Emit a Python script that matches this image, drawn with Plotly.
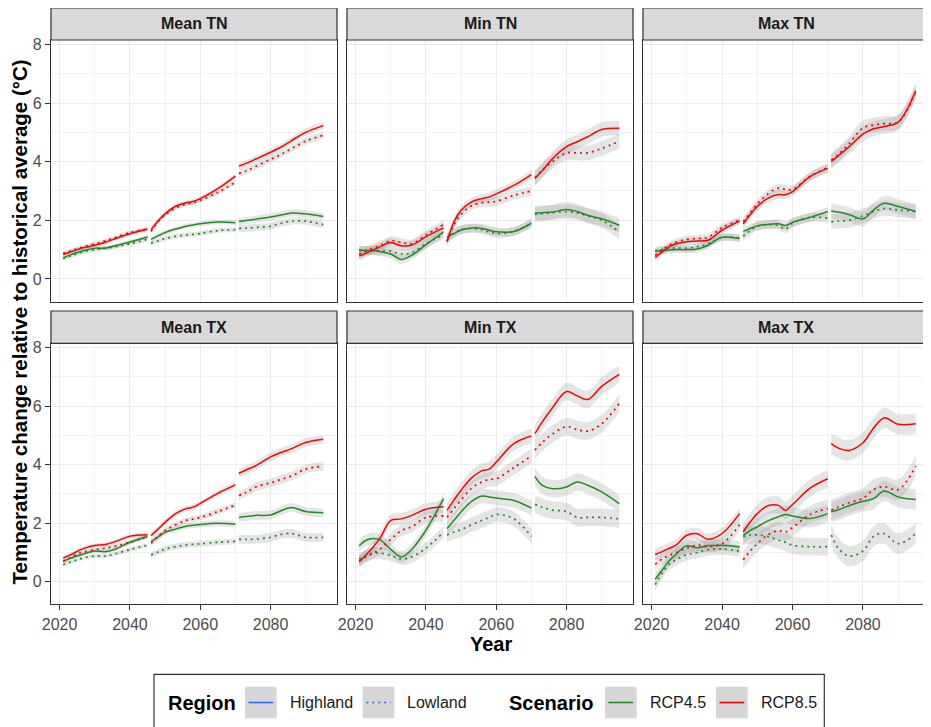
import plotly.graph_objects as go

# ---------------- data ----------------
SEG1_YEARS = [2021, 2023, 2025, 2027, 2030, 2033, 2036, 2040, 2045]
SEG2_YEARS = [2046, 2048, 2050, 2053, 2056, 2058, 2060, 2065, 2070]
SEG3_YEARS = [2071, 2073, 2076, 2080, 2083, 2086, 2090, 2095]
SEGMENTS = [SEG1_YEARS, SEG2_YEARS, SEG3_YEARS]

PANELS = ["Mean TN", "Min TN", "Max TN", "Mean TX", "Min TX", "Max TX"]
SCENARIOS = ["RCP4.5", "RCP8.5"]
REGIONS = ["Highland", "Lowland"]

# values: seg1 (9) + seg2 (9) + seg3 (8)
mean_tn_rcp85_high = [0.83, 0.92, 1.00, 1.07, 1.15, 1.25, 1.38, 1.54, 1.70,
                      1.68, 1.98, 2.22, 2.48, 2.60, 2.64, 2.74, 3.08, 3.51,
                      3.85, 3.94, 4.10, 4.32, 4.50, 4.72, 5.00, 5.23]
mean_tn_rcp85_low = [0.87, 0.95, 1.03, 1.10, 1.20, 1.30, 1.42, 1.58, 1.70,
                     1.62, 1.95, 2.18, 2.42, 2.55, 2.60, 2.68, 2.95, 3.30,
                     3.60, 3.68, 3.85, 4.08, 4.25, 4.45, 4.70, 4.90]
mean_tn_rcp45_high = [0.72, 0.82, 0.90, 0.97, 1.05, 1.05, 1.14, 1.26, 1.43,
                      1.35, 1.47, 1.58, 1.70, 1.80, 1.84, 1.88, 1.94, 1.92,
                      1.96, 1.99, 2.04, 2.11, 2.18, 2.25, 2.22, 2.13]
mean_tn_rcp45_low = [0.70, 0.78, 0.86, 0.93, 1.00, 1.05, 1.10, 1.20, 1.35,
                     1.22, 1.30, 1.38, 1.45, 1.50, 1.52, 1.55, 1.65, 1.68,
                     1.72, 1.73, 1.76, 1.80, 1.90, 1.97, 1.97, 1.85]

min_tn_rcp85_high = [0.78, 0.88, 0.99, 1.10, 1.24, 1.13, 1.16, 1.44, 1.74,
                     1.27, 1.95, 2.34, 2.63, 2.74, 2.80, 2.90, 3.19, 3.56,
                     3.43, 3.68, 4.10, 4.51, 4.68, 4.85, 5.10, 5.14]
min_tn_rcp85_low = [0.85, 0.95, 1.05, 1.15, 1.30, 1.25, 1.20, 1.50, 1.85,
                    1.30, 1.85, 2.20, 2.50, 2.60, 2.62, 2.65, 2.85, 3.00,
                    3.45, 3.70, 4.00, 4.30, 4.30, 4.30, 4.45, 4.70]
min_tn_rcp45_high = [0.98, 0.97, 0.96, 0.93, 0.85, 0.66, 0.81, 1.17, 1.60,
                     1.42, 1.55, 1.67, 1.74, 1.72, 1.66, 1.61, 1.62, 1.90,
                     2.25, 2.26, 2.28, 2.37, 2.30, 2.17, 2.05, 1.83]
min_tn_rcp45_low = [0.98, 0.97, 0.97, 0.96, 0.95, 0.85, 0.90, 1.20, 1.50,
                    1.40, 1.55, 1.68, 1.72, 1.68, 1.60, 1.55, 1.62, 1.90,
                    2.20, 2.22, 2.26, 2.30, 2.25, 2.15, 2.00, 1.60]

max_tn_rcp85_high = [0.73, 0.92, 1.10, 1.20, 1.27, 1.29, 1.32, 1.66, 1.98,
                     1.88, 2.20, 2.47, 2.75, 2.88, 2.87, 2.98, 3.49, 3.77,
                     4.00, 4.20, 4.50, 4.94, 5.12, 5.20, 5.35, 6.42]
max_tn_rcp85_low = [0.80, 0.98, 1.15, 1.25, 1.35, 1.38, 1.42, 1.75, 2.00,
                    1.95, 2.25, 2.55, 2.90, 3.10, 3.05, 3.05, 3.50, 3.80,
                    4.05, 4.25, 4.60, 5.15, 5.25, 5.30, 5.35, 6.40]
max_tn_rcp45_high = [0.95, 0.97, 0.99, 1.00, 1.00, 1.02, 1.15, 1.42, 1.38,
                     1.62, 1.72, 1.81, 1.86, 1.88, 1.82, 1.93, 2.10, 2.30,
                     2.32, 2.28, 2.20, 2.05, 2.35, 2.58, 2.47, 2.30]
max_tn_rcp45_low = [0.95, 1.00, 1.05, 1.05, 1.05, 1.10, 1.20, 1.42, 1.40,
                    1.45, 1.65, 1.80, 1.85, 1.82, 1.70, 1.90, 2.10, 2.07,
                    1.95, 1.97, 2.00, 2.15, 2.30, 2.40, 2.35, 2.30]

mean_tx_rcp85_high = [0.81, 0.92, 1.04, 1.14, 1.24, 1.27, 1.38, 1.56, 1.61,
                      1.58, 1.80, 2.03, 2.33, 2.50, 2.55, 2.68, 3.02, 3.31,
                      3.71, 3.82, 3.98, 4.27, 4.42, 4.55, 4.76, 4.87]
mean_tx_rcp85_low = [0.70, 0.83, 0.95, 1.02, 1.10, 1.15, 1.22, 1.35, 1.55,
                     1.32, 1.55, 1.75, 1.95, 2.10, 2.15, 2.20, 2.40, 2.62,
                     2.95, 3.05, 3.25, 3.38, 3.50, 3.62, 3.85, 3.95]
mean_tx_rcp45_high = [0.70, 0.80, 0.88, 0.96, 1.05, 1.03, 1.12, 1.35, 1.55,
                      1.37, 1.53, 1.69, 1.80, 1.90, 1.93, 1.96, 2.00, 1.97,
                      2.20, 2.23, 2.27, 2.28, 2.43, 2.54, 2.40, 2.36]
mean_tx_rcp45_low = [0.58, 0.67, 0.75, 0.82, 0.88, 0.88, 0.96, 1.10, 1.25,
                     0.92, 1.02, 1.12, 1.20, 1.26, 1.28, 1.30, 1.35, 1.38,
                     1.45, 1.45, 1.46, 1.52, 1.62, 1.65, 1.52, 1.52]

min_tx_rcp85_high = [0.68, 0.92, 1.19, 1.50, 2.10, 2.15, 2.27, 2.48, 2.56,
                     2.44, 2.80, 3.13, 3.55, 3.80, 3.85, 4.09, 4.72, 4.98,
                     5.06, 5.45, 5.95, 6.50, 6.36, 6.23, 6.68, 7.09]
min_tx_rcp85_low = [0.72, 0.85, 0.98, 1.12, 1.45, 1.75, 1.88, 2.20, 2.25,
                    2.20, 2.50, 2.80, 3.20, 3.42, 3.50, 3.52, 3.90, 4.30,
                    4.50, 4.75, 5.05, 5.30, 5.20, 5.15, 5.40, 6.10]
min_tx_rcp45_high = [1.23, 1.42, 1.48, 1.43, 1.11, 0.85, 1.11, 1.76, 2.84,
                     1.82, 2.10, 2.39, 2.75, 2.93, 2.90, 2.86, 2.78, 2.52,
                     3.60, 3.30, 3.18, 3.24, 3.41, 3.30, 3.07, 2.67]
min_tx_rcp45_low = [0.78, 0.90, 0.98, 0.98, 0.90, 0.78, 0.85, 1.15, 1.70,
                    1.60, 1.70, 1.78, 1.95, 2.10, 2.20, 2.30, 2.15, 1.55,
                    2.65, 2.55, 2.45, 2.40, 2.20, 2.20, 2.20, 2.15]

max_tx_rcp85_high = [0.93, 1.03, 1.14, 1.26, 1.59, 1.64, 1.45, 1.65, 2.33,
                     1.70, 2.05, 2.33, 2.60, 2.61, 2.44, 2.64, 3.20, 3.52,
                     4.72, 4.57, 4.49, 4.75, 5.25, 5.60, 5.38, 5.40]
max_tx_rcp85_low = [0.60, 0.78, 0.90, 1.00, 1.15, 1.25, 1.20, 1.30, 1.95,
                    0.75, 1.05, 1.30, 1.60, 1.75, 1.70, 1.85, 2.30, 2.50,
                    2.45, 2.55, 2.70, 2.85, 3.15, 3.25, 3.15, 3.95]
max_tx_rcp45_high = [0.09, 0.40, 0.72, 0.95, 1.23, 1.16, 1.23, 1.25, 1.19,
                     1.59, 1.75, 1.88, 2.08, 2.22, 2.30, 2.25, 2.16, 2.33,
                     2.39, 2.46, 2.60, 2.75, 2.84, 3.10, 2.90, 2.81]
max_tx_rcp45_low = [-0.10, 0.30, 0.60, 0.75, 0.93, 1.00, 1.10, 1.12, 1.05,
                    1.55, 1.60, 1.60, 1.55, 1.42, 1.35, 1.25, 1.20, 1.20,
                    1.60, 1.15, 0.88, 1.05, 1.55, 1.65, 1.30, 1.65]

# confidence band half-widths per panel, per segment
mean_tn_se = [0.07, 0.08, 0.12]
min_tn_se = [0.15, 0.15, 0.25]
max_tn_se = [0.12, 0.15, 0.25]
mean_tx_se = [0.07, 0.10, 0.15]
min_tx_se = [0.20, 0.25, 0.30]
max_tx_se = [0.20, 0.30, 0.35]

SERIES = {
    "Mean TN": {("RCP4.5", "Highland"): mean_tn_rcp45_high, ("RCP4.5", "Lowland"): mean_tn_rcp45_low,
                ("RCP8.5", "Highland"): mean_tn_rcp85_high, ("RCP8.5", "Lowland"): mean_tn_rcp85_low},
    "Min TN": {("RCP4.5", "Highland"): min_tn_rcp45_high, ("RCP4.5", "Lowland"): min_tn_rcp45_low,
               ("RCP8.5", "Highland"): min_tn_rcp85_high, ("RCP8.5", "Lowland"): min_tn_rcp85_low},
    "Max TN": {("RCP4.5", "Highland"): max_tn_rcp45_high, ("RCP4.5", "Lowland"): max_tn_rcp45_low,
               ("RCP8.5", "Highland"): max_tn_rcp85_high, ("RCP8.5", "Lowland"): max_tn_rcp85_low},
    "Mean TX": {("RCP4.5", "Highland"): mean_tx_rcp45_high, ("RCP4.5", "Lowland"): mean_tx_rcp45_low,
                ("RCP8.5", "Highland"): mean_tx_rcp85_high, ("RCP8.5", "Lowland"): mean_tx_rcp85_low},
    "Min TX": {("RCP4.5", "Highland"): min_tx_rcp45_high, ("RCP4.5", "Lowland"): min_tx_rcp45_low,
               ("RCP8.5", "Highland"): min_tx_rcp85_high, ("RCP8.5", "Lowland"): min_tx_rcp85_low},
    "Max TX": {("RCP4.5", "Highland"): max_tx_rcp45_high, ("RCP4.5", "Lowland"): max_tx_rcp45_low,
               ("RCP8.5", "Highland"): max_tx_rcp85_high, ("RCP8.5", "Lowland"): max_tx_rcp85_low},
}
SE = {"Mean TN": mean_tn_se, "Min TN": min_tn_se, "Max TN": max_tn_se,
      "Mean TX": mean_tx_se, "Min TX": min_tx_se, "Max TX": max_tx_se}

Y_TICKS = [0, 2, 4, 6, 8]
X_TICKS = [2020, 2040, 2060, 2080]

# ---------------- styling / layout ----------------
PAGE_W, PAGE_H = 931, 727
OFF = 8  # default body margin of the html page
W, H = PAGE_W - OFF, PAGE_H - OFF
COLORS = {"RCP4.5": "#228B22", "RCP8.5": "#FF0000"}
DASHES = {"Highland": "solid", "Lowland": "2px,4px"}
FONT = "Liberation Sans, Arial, Helvetica, sans-serif"
BAND = "rgba(153,153,153,0.25)"


def px(x):
    return (x - OFF) / W


def py(y):
    return 1 - (y - OFF) / H


COL_PX = [(51, 337), (347, 633), (643, 929.5)]
ROW_PX = [(40, 301.5), (343.3, 604.3)]
STRIP_PX = [(8, 40), (311, 343.3)]
XRANGE = [2017.55, 2098.9]
YRANGE = [-0.77, 8.15]

fig = go.Figure()


def split(vals):
    out, i = [], 0
    for seg in SEGMENTS:
        out.append(vals[i:i + len(seg)])
        i += len(seg)
    return out


for k, panel in enumerate(PANELS):
    ax = "" if k == 0 else str(k + 1)
    xa, ya = "x" + ax, "y" + ax
    for sc in SCENARIOS:
        for rg in REGIONS:
            segs = split(SERIES[panel][(sc, rg)])
            for s, (yrs, vals) in enumerate(zip(SEGMENTS, segs)):
                se = SE[panel][s]
                fig.add_trace(go.Scatter(x=yrs, y=[v + se for v in vals], xaxis=xa, yaxis=ya,
                                         mode="lines", line=dict(width=0, shape="spline"),
                                         showlegend=False, hoverinfo="skip"))
                fig.add_trace(go.Scatter(x=yrs, y=[v - se for v in vals], xaxis=xa, yaxis=ya,
                                         mode="lines", line=dict(width=0, shape="spline"),
                                         fill="tonexty", fillcolor=BAND,
                                         showlegend=False, hoverinfo="skip"))
    for sc in SCENARIOS:
        for rg in REGIONS:
            segs = split(SERIES[panel][(sc, rg)])
            for yrs, vals in zip(SEGMENTS, segs):
                fig.add_trace(go.Scatter(x=yrs, y=vals, xaxis=xa, yaxis=ya, mode="lines",
                                         line=dict(color=COLORS[sc], width=1.7 if rg == "Lowland" else 1.5,
                                                   dash=DASHES[rg], shape="spline", smoothing=1.0),
                                         showlegend=False, name=f"{sc} {rg}"))

layout = dict(template="none", width=W, height=H, margin=dict(l=0, r=0, t=0, b=0, pad=0),
              autosize=False,
              paper_bgcolor="white", plot_bgcolor="white", showlegend=False,
              font=dict(family=FONT, color="#4D4D4D"))

shapes, annotations = [], []
for k, panel in enumerate(PANELS):
    r, c = divmod(k, 3)
    ax = "" if k == 0 else str(k + 1)
    x0, x1 = COL_PX[c]
    y0, y1 = ROW_PX[r]
    layout["xaxis" + ax] = dict(
        domain=[px(x0), px(x1)], anchor="y" + ax, range=XRANGE, automargin=False,
        tickvals=X_TICKS, showticklabels=(r == 1), ticks="outside" if r == 1 else "",
        ticklen=5, tickwidth=1.1, tickcolor="#333333",
        tickfont=dict(size=16, color="#4D4D4D", family=FONT),
        showgrid=True, gridcolor="#EBEBEB", gridwidth=1.2,
        minor=dict(tickvals=[2030, 2050, 2070, 2090], showgrid=True, gridcolor="#F2F2F2", gridwidth=0.6),
        showline=True, mirror=True, linecolor="#333333", linewidth=1.2, zeroline=False)
    layout["yaxis" + ax] = dict(
        domain=[py(y1), py(y0)], anchor="x" + ax, range=YRANGE, automargin=False,
        tickvals=Y_TICKS, showticklabels=(c == 0), ticks="outside" if c == 0 else "",
        ticklen=5, tickwidth=1.1, tickcolor="#333333",
        tickfont=dict(size=16, color="#4D4D4D", family=FONT),
        showgrid=True, gridcolor="#EBEBEB", gridwidth=1.2,
        minor=dict(tickvals=[1, 3, 5, 7], showgrid=True, gridcolor="#F2F2F2", gridwidth=0.6),
        showline=True, mirror=True, linecolor="#333333", linewidth=1.2, zeroline=False)
    sy0, sy1 = STRIP_PX[r]
    shapes.append(dict(type="rect", xref="paper", yref="paper", x0=px(x0), x1=px(x1),
                       y0=py(sy1), y1=py(sy0), fillcolor="#D9D9D9",
                       line=dict(color="#333333", width=1.2), layer="above"))
    annotations.append(dict(xref="paper", yref="paper", x=px((x0 + x1) / 2), y=py((sy0 + sy1) / 2),
                            text=f"<b>{panel}</b>", showarrow=False, xanchor="center", yanchor="middle",
                            font=dict(size=16, color="#1A1A1A", family=FONT)))

# axis titles
annotations.append(dict(xref="paper", yref="paper", x=px(18.5), y=py(322), textangle=-90,
                        text="<b>Temperature change relative to historical average (°C)</b>",
                        showarrow=False, xanchor="center", yanchor="middle", borderpad=0,
                        font=dict(size=20.5, color="black", family=FONT)))
annotations.append(dict(xref="paper", yref="paper", x=px(490.5), y=py(643.5), text="<b>Year</b>",
                        showarrow=False, xanchor="center", yanchor="middle",
                        font=dict(size=20, color="black", family=FONT)))

# legend (manual, ggplot style)
shapes.append(dict(type="rect", xref="paper", yref="paper", x0=px(154), x1=px(824.3),
                   y0=py(732), y1=py(674.3), fillcolor="white",
                   line=dict(color="#333333", width=1.2), layer="above"))
LEG_Y = 702.5
legend_keys = [
    (245, "#3366FF", "solid"),
    (362.7, "#3366FF", "2px,4px"),
    (605, "#228B22", "solid"),
    (716, "#FF0000", "solid"),
]
for kx, col, dash in legend_keys:
    shapes.append(dict(type="rect", xref="paper", yref="paper", x0=px(kx), x1=px(kx + 31.7),
                       y0=py(718.3), y1=py(686.7), fillcolor="#D6D6D6", line=dict(width=0),
                       layer="above"))
    shapes.append(dict(type="line", xref="paper", yref="paper", x0=px(kx + 3.5), x1=px(kx + 28.2),
                       y0=py(LEG_Y), y1=py(LEG_Y), line=dict(color=col, width=1.6, dash=dash),
                       layer="above"))
legend_texts = [
    (165.5, "<b>Region</b>", 20),
    (287.5, "Highland", 16),
    (405.2, "Lowland", 16),
    (507.3, "<b>Scenario</b>", 20),
    (647.5, "RCP4.5", 16),
    (758.5, "RCP8.5", 16),
]
for tx, txt, sz in legend_texts:
    annotations.append(dict(xref="paper", yref="paper", x=px(tx), y=py(LEG_Y), text=txt,
                            showarrow=False, xanchor="left", yanchor="middle",
                            font=dict(size=sz, color="black" if sz == 20 else "#1A1A1A", family=FONT)))

layout["shapes"] = shapes
layout["annotations"] = annotations
fig.update_layout(**layout)
fig.write_html("out.html")
